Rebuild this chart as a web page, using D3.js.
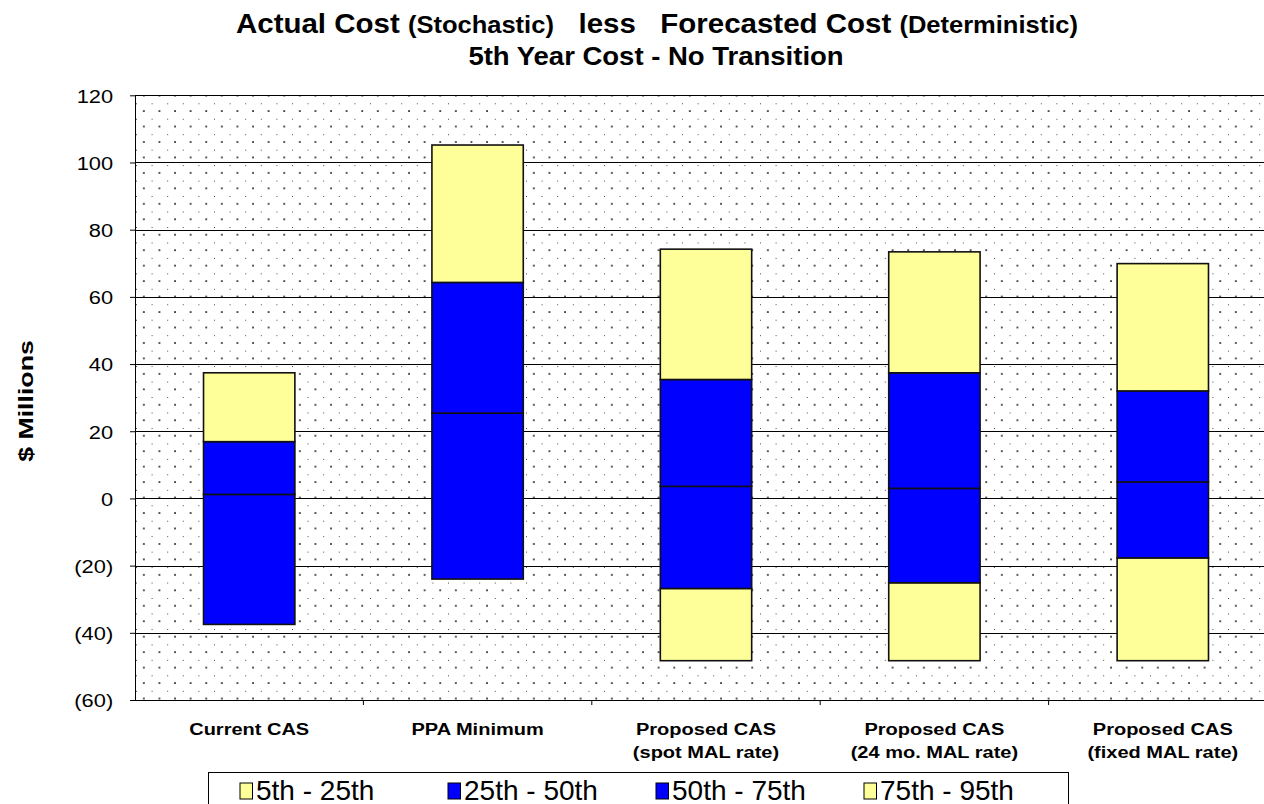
<!DOCTYPE html>
<html>
<head>
<meta charset="utf-8">
<script src="https://cdn.jsdelivr.net/npm/d3@7"></script>
<style>
  body { margin: 0; background: #fff; }
  svg { display: block; font-family: "Liberation Sans", Arial, sans-serif; }
</style>
</head>
<body>
<svg id="chart"></svg>
<script>
// percentile boundaries per category, $ millions
const categories = ["Current CAS", "PPA Minimum", "Proposed CAS|(spot MAL rate)", "Proposed CAS|(24 mo. MAL rate)", "Proposed CAS|(fixed MAL rate)"];
const p5  = [-37.5, -24.0, -48.3, -48.3, -48.3];
const p25 = [-37.5, -24.0, -26.8, -25.1, -17.7];
const p50 = [1.2, 25.4, 3.6, 3.0, 4.9];
const p75 = [16.9, 64.3, 35.4, 37.4, 32.0];
const p95 = [37.4, 105.2, 74.2, 73.4, 69.9];

const seriesNames = ["5th - 25th", "25th - 50th", "50th - 75th", "75th - 95th"];
const seriesColors = ["#FFFF99", "#0000FF", "#0000FF", "#FFFF99"];
const yTicks = [-60, -40, -20, 0, 20, 40, 60, 80, 100, 120];

const width = 1264;
const height = 804;
const margin = ({ top: 95.3, right: -13, bottom: 104, left: 135 });

const svg = d3.select("#chart")
    .attr("width", width)
    .attr("height", height);

// scales
let xScale = d3.scaleBand()
    .domain(categories)
    .range([margin.left, width - margin.right])
    .paddingInner(0.6)
    .paddingOuter(0.3);

let xCat = d3.scaleBand()
    .domain(categories)
    .range([margin.left, width - margin.right]);

let yScale = d3.scaleLinear()
    .domain([-60, 120])
    .range([height - margin.bottom, margin.top]);

// dotted fill of the plot area
const defs = svg.append("defs");
const pat = defs.append("pattern")
    .attr("id", "dots")
    .attr("patternUnits", "userSpaceOnUse")
    .attr("x", 136).attr("y", 103.3)
    .attr("width", 15.6).attr("height", 15.46);
pat.append("rect").attr("x", -0.8).attr("y", -0.8).attr("width", 1.7).attr("height", 1.7).attr("fill", "#222");
pat.append("rect").attr("x", 7).attr("y", 6.93).attr("width", 1.7).attr("height", 1.7).attr("fill", "#222");

svg.append("rect")
    .attr("x", margin.left)
    .attr("y", margin.top)
    .attr("width", xCat.range()[1] - margin.left)
    .attr("height", yScale(-60) - margin.top)
    .attr("fill", "url(#dots)");

// gridlines
svg.append("g")
    .selectAll("line")
    .data(yTicks)
    .enter()
    .append("line")
    .attr("x1", margin.left)
    .attr("x2", xCat.range()[1])
    .attr("y1", d => Math.round(yScale(d)) + 0.5)
    .attr("y2", d => Math.round(yScale(d)) + 0.5)
    .attr("stroke", "#000")
    .attr("stroke-width", 1);

// stacked segments
const bounds = [p5, p25, p50, p75, p95];
const segments = [];
categories.forEach((c, i) => {
    for (let s = 0; s < 4; s++) {
        segments.push({ cat: c, s: s, lo: bounds[s][i], hi: bounds[s + 1][i] });
    }
});

svg.append("g")
    .selectAll("rect")
    .data(segments.filter(d => d.hi > d.lo))
    .enter()
    .append("rect")
    .attr("x", d => xScale(d.cat))
    .attr("width", xScale.bandwidth())
    .attr("y", d => yScale(d.hi))
    .attr("height", d => yScale(d.lo) - yScale(d.hi))
    .attr("fill", d => seriesColors[d.s])
    .attr("stroke", "#111")
    .attr("stroke-width", 1.6);

// y axis
const yAxis = g => g
    .attr("transform", `translate(${margin.left},0)`)
    .call(d3.axisLeft(yScale).tickValues(yTicks).tickSize(5).tickSizeOuter(0)
        .tickFormat(d => d < 0 ? `(${-d})` : d))
    .call(g => g.selectAll(".tick text")
        .attr("x", -19)
        .attr("dy", "0.36em")
        .attr("transform", "scale(1.15,1)")
        .attr("font-size", 19)
        .attr("font-family", "Liberation Sans, Arial, sans-serif")
        .attr("fill", "#000"));

svg.append("g").call(yAxis);

// x axis
const xAxis = g => g
    .attr("transform", `translate(0,${yScale(-60)})`)
    .call(d3.axisBottom(xCat).tickSize(0).tickSizeOuter(0).tickFormat(""))
    .call(g => g.select(".domain").attr("stroke", "#000"));

svg.append("g").call(xAxis);

svg.append("g")
    .selectAll("line")
    .data(categories)
    .enter()
    .append("line")
    .attr("x1", d => xCat(d) + xCat.bandwidth())
    .attr("x2", d => xCat(d) + xCat.bandwidth())
    .attr("y1", yScale(-60))
    .attr("y2", yScale(-60) + 5)
    .attr("stroke", "#000");

const catLabels = svg.append("g")
    .selectAll("text")
    .data(categories)
    .enter()
    .append("text")
    .attr("transform", d => `translate(${xCat(d) + xCat.bandwidth() / 2},735) scale(1.25,1)`)
    .attr("text-anchor", "middle")
    .attr("font-size", 16)
    .attr("font-weight", "bold");

catLabels.selectAll("tspan")
    .data(d => d.split("|"))
    .enter()
    .append("tspan")
    .attr("x", 0)
    .attr("y", (d, i) => i * 23)
    .text(d => d);

// titles
const title1 = svg.append("text")
    .attr("transform", "translate(657,33) scale(1.1,1)")
    .attr("text-anchor", "middle")
    .attr("font-weight", "bold")
    .style("white-space", "pre");
title1.append("tspan").attr("font-size", 26.8).text("Actual Cost ");
title1.append("tspan").attr("font-size", 23.2).text("(Stochastic)");
title1.append("tspan").attr("font-size", 26.8).text("   less   Forecasted Cost ");
title1.append("tspan").attr("font-size", 23.2).text("(Deterministic)");

svg.append("text")
    .attr("transform", "translate(656,65) scale(1.1,1)")
    .attr("text-anchor", "middle")
    .attr("font-weight", "bold")
    .attr("font-size", 25)
    .text("5th Year Cost - No Transition");

svg.append("text")
    .attr("transform", "translate(33,401) rotate(-90) scale(1.27,1)")
    .attr("text-anchor", "middle")
    .attr("font-weight", "bold")
    .attr("font-size", 21)
    .text("$ Millions");

// legend
const legend = svg.append("g");
legend.append("rect")
    .attr("x", 208.5).attr("y", 772.5)
    .attr("width", 860).attr("height", 50)
    .attr("fill", "#fff")
    .attr("stroke", "#000");

const items = legend.selectAll("g")
    .data(seriesNames)
    .enter()
    .append("g")
    .attr("transform", (d, i) => `translate(${240 + i * 208},783)`);

items.append("rect")
    .attr("width", 12.5).attr("height", 16)
    .attr("fill", (d, i) => seriesColors[i])
    .attr("stroke", "#000");

items.append("text")
    .attr("x", 16)
    .attr("y", 16.5)
    .attr("font-size", 28)
    .text(d => d);
</script>
</body>
</html>
